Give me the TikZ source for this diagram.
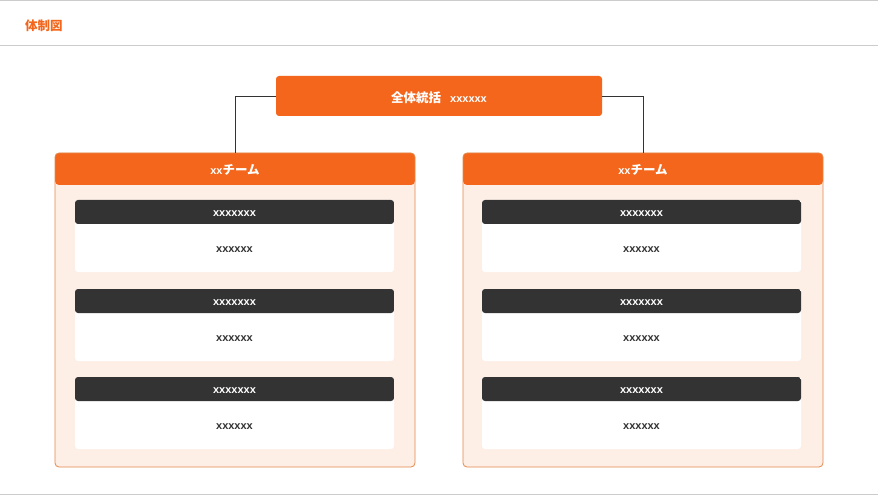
\documentclass[tikz,border=0pt]{standalone}
\usepackage{fontspec}
\setmainfont{Liberation Sans}
\newfontfamily\jpfont{Noto Sans CJK JP}
\usetikzlibrary{positioning}
\definecolor{brand}{HTML}{F4661B}
\definecolor{peach}{HTML}{FDEEE6}
\definecolor{teamline}{HTML}{E38A4C}
\definecolor{ink}{HTML}{333333}
\definecolor{rule}{HTML}{CCCCCC}

\begin{document}
\begin{tikzpicture}[x=1pt, y=-1pt,
	pagetitle/.style={anchor=west, inner sep=0pt, text=brand, font=\jpfont\bfseries\fontsize{12.5}{14}\selectfont},
	lead/.style={fill=brand, rounded corners=3pt, minimum width=326pt, minimum height=40pt, text=white, font=\bfseries\fontsize{11}{13}\selectfont},
	team/.style={draw=teamline, line width=0.8pt, fill=peach, rounded corners=4pt, minimum width=360pt, minimum height=314pt,
		path picture={\fill[brand] (path picture bounding box.north west) rectangle ([yshift=-32pt]path picture bounding box.north east);}},
	teamtitle/.style={inner sep=0pt, text=white, font=\bfseries\fontsize{11}{13}\selectfont},
	card/.style={fill=white, rounded corners=3pt, minimum width=319pt, minimum height=72pt,
		path picture={\fill[ink] (path picture bounding box.north west) rectangle ([yshift=-24pt]path picture bounding box.north east);}},
	cardhead/.style={inner sep=0pt, text=white, font=\bfseries\fontsize{11}{12}\selectfont},
	cardtext/.style={inner sep=0pt, text=ink, font=\bfseries\fontsize{11}{12}\selectfont},
	link/.style={draw=ink, line width=0.8pt}]
	\useasboundingbox[fill=white] (0,0) rectangle (878,497);
	\draw[rule] (0,0.5) -- (878,0.5);
	\draw[rule] (0,45.5) -- (878,45.5);
	\draw[rule] (0,494.5) -- (878,494.5);
	\node[pagetitle] (title) at (25,26) {体制図};

	\node[lead] (lead) at (439,96) {};
	\node[teamtitle] (leadtext) at (439,98) {{\jpfont\fontsize{12.5}{14}\selectfont 全体統括}\hspace{9pt}xxxxxx};
	\node[team] (teamL) at (235,310) {};
	\node[team] (teamR) at (643,310) {};
	\draw[link] (lead.west) -| (teamL.north);
	\draw[link] (lead.east) -| (teamR.north);
	\node[teamtitle] (headL) at ([yshift=-17.5pt]teamL.north) {xx{\jpfont\fontsize{12.5}{14}\selectfont チーム}};
	\node[teamtitle] (headR) at ([yshift=-17.5pt]teamR.north) {xx{\jpfont\fontsize{12.5}{14}\selectfont チーム}};

	% left team
	\node[card] (cardL1) at (234.5,236) {};
	\node[cardhead] (nameL1) at ([yshift=-14pt]cardL1.north) {xxxxxxx};
	\node[cardtext] (textL1) at ([yshift=-50pt]cardL1.north) {xxxxxx};
	\node[card] (cardL2) at (234.5,325) {};
	\node[cardhead] (nameL2) at ([yshift=-14pt]cardL2.north) {xxxxxxx};
	\node[cardtext] (textL2) at ([yshift=-50pt]cardL2.north) {xxxxxx};
	\node[card] (cardL3) at (234.5,413) {};
	\node[cardhead] (nameL3) at ([yshift=-14pt]cardL3.north) {xxxxxxx};
	\node[cardtext] (textL3) at ([yshift=-50pt]cardL3.north) {xxxxxx};

	% right team
	\node[card] (cardR1) at (641.5,236) {};
	\node[cardhead] (nameR1) at ([yshift=-14pt]cardR1.north) {xxxxxxx};
	\node[cardtext] (textR1) at ([yshift=-50pt]cardR1.north) {xxxxxx};
	\node[card] (cardR2) at (641.5,325) {};
	\node[cardhead] (nameR2) at ([yshift=-14pt]cardR2.north) {xxxxxxx};
	\node[cardtext] (textR2) at ([yshift=-50pt]cardR2.north) {xxxxxx};
	\node[card] (cardR3) at (641.5,413) {};
	\node[cardhead] (nameR3) at ([yshift=-14pt]cardR3.north) {xxxxxxx};
	\node[cardtext] (textR3) at ([yshift=-50pt]cardR3.north) {xxxxxx};
\end{tikzpicture}
\end{document}
